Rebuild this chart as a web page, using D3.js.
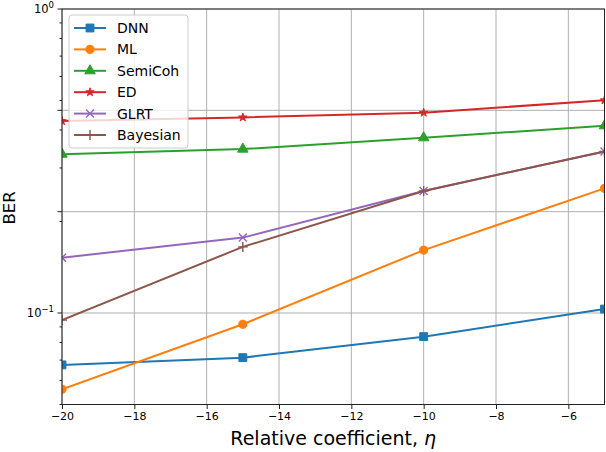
<!DOCTYPE html>
<html>
<head>
<meta charset="utf-8">
<script src="https://cdn.jsdelivr.net/npm/d3@7"></script>
<style>
  body { margin: 0; background: #fff; }
  svg { display: block; font-family: "DejaVu Sans", sans-serif; }
</style>
</head>
<body>
<div id="chart"></div>
<script>
// data
const etaValues = [-20, -15, -10, -5];
const dnnBer = [0.0675, 0.0713, 0.0836, 0.103];
const mlBer = [0.0561, 0.0918, 0.161, 0.257];
const semiCohBer = [0.333, 0.346, 0.377, 0.413];
const edBer = [0.428, 0.440, 0.456, 0.501];
const glrtBer = [0.152, 0.177, 0.252, 0.340];
const bayesianBer = [0.0948, 0.165, 0.252, 0.340];

const seriesNames = ["DNN", "ML", "SemiCoh", "ED", "GLRT", "Bayesian"];
const xTickValues = [-20, -18, -16, -14, -12, -10, -8, -6];
const yMajorTicks = [1, 0.1];
const yGridTicks = [1, Math.pow(10, -1 / 3), Math.pow(10, -2 / 3), 0.1];
const yMinorTicks = [0.9, 0.8, 0.7, 0.6, 0.5, 0.4, 0.3, 0.2, 0.09, 0.08, 0.07, 0.06, 0.05];

const colors = ["#1f77b4", "#ff7f0e", "#2ca02c", "#d62728", "#9467bd", "#8c564b"];
const markers = ["square", "circle", "triangle", "star", "x", "plus"];

const series = [dnnBer, mlBer, semiCohBer, edBer, glrtBer, bayesianBer].map((vals, i) => ({
    name: seriesNames[i],
    color: colors[i],
    marker: markers[i],
    points: vals.map((v, j) => ({ x: etaValues[j], y: v }))
}));

const width = 606, height = 452;
const margin = { left: 62, right: 1.5, top: 9, bottom: 47.5 };

const svg = d3.select("#chart").append("svg")
    .attr("width", width)
    .attr("height", height);

const x = d3.scaleLinear().domain([-20, -5]).range([margin.left, width - margin.right]);
const y = d3.scaleLog().domain([0.05, 1]).range([height - margin.bottom, margin.top]);

svg.append("clipPath").attr("id", "plotClip")
    .append("rect")
    .attr("x", margin.left).attr("y", margin.top)
    .attr("width", x.range()[1] - margin.left)
    .attr("height", y.range()[0] - margin.top);

// grid
const grid = svg.append("g").attr("stroke", "#b0b0b0").attr("stroke-width", 1);
grid.selectAll(".vg").data(xTickValues).enter().append("line")
    .attr("x1", d => x(d)).attr("x2", d => x(d))
    .attr("y1", margin.top).attr("y2", y.range()[0]);
grid.selectAll(".hg").data(yGridTicks).enter().append("line")
    .attr("x1", margin.left).attr("x2", x.range()[1])
    .attr("y1", d => y(d)).attr("y2", d => y(d));

// axes
const fmtMinus = d => String(d).replace("-", "\u2212");
const xAxis = svg.append("g")
    .attr("transform", `translate(0,${y.range()[0]})`)
    .call(d3.axisBottom(x).tickValues(xTickValues).tickFormat(fmtMinus).tickSize(4.5).tickPadding(3));
xAxis.select(".domain").remove();
xAxis.selectAll("text").attr("font-size", 11).attr("fill", "#000").attr("font-family", "DejaVu Sans");
xAxis.selectAll("line").attr("stroke", "#222");

const yAxis = svg.append("g").attr("transform", `translate(${margin.left},0)`);
yAxis.selectAll(".maj").data(yGridTicks).enter().append("line")
    .attr("x1", -4.5).attr("x2", 0)
    .attr("y1", d => y(d)).attr("y2", d => y(d))
    .attr("stroke", "#222");
yAxis.selectAll(".min").data(yMinorTicks).enter().append("line")
    .attr("x1", -2.5).attr("x2", 0)
    .attr("y1", d => y(d)).attr("y2", d => y(d))
    .attr("stroke", "#222");
const yLabels = yAxis.selectAll(".yl").data(yMajorTicks).enter().append("text")
    .attr("x", -8)
    .attr("y", d => y(d) + 4)
    .attr("text-anchor", "end")
    .attr("font-size", 11.5);
yLabels.append("tspan").text("10");
yLabels.append("tspan").attr("dy", -5).attr("font-size", 8.5)
    .text(d => d === 1 ? "0" : "\u22121");

// lines + markers
const line = d3.line().x(d => x(d.x)).y(d => y(d.y));

function markerPath(type) {
    switch (type) {
        case "square": return d3.symbol(d3.symbolSquare, 62)();
        case "circle": return d3.symbol(d3.symbolCircle, 52)();
        case "triangle": return d3.symbol(d3.symbolTriangle, 48)();
        case "star": return d3.symbol(d3.symbolStar, 22)();
        case "x": return "M-4,-4L4,4M-4,4L4,-4";
        case "plus": return "M-5,0L5,0M0,-5L0,5";
    }
}

function drawMarker(sel, s) {
    const stroked = s.marker === "x" || s.marker === "plus";
    sel.attr("d", markerPath(s.marker))
        .attr("fill", stroked ? "none" : s.color)
        .attr("stroke", s.color)
        .attr("stroke-width", stroked ? 1.4 : 1);
}

const plot = svg.append("g").attr("clip-path", "url(#plotClip)");
series.forEach(s => {
    plot.append("path")
        .datum(s.points)
        .attr("d", line)
        .attr("fill", "none")
        .attr("stroke", s.color)
        .attr("stroke-width", 2);
    plot.selectAll(null).data(s.points).enter().append("path")
        .attr("transform", d => `translate(${x(d.x)},${y(d.y)})`)
        .call(drawMarker, s);
});

// frame
svg.append("rect")
    .attr("x", margin.left).attr("y", margin.top)
    .attr("width", x.range()[1] - margin.left)
    .attr("height", y.range()[0] - margin.top)
    .attr("fill", "none").attr("stroke", "#222").attr("stroke-width", 1);

// axis titles
svg.append("text")
    .attr("x", (margin.left + x.range()[1]) / 2)
    .attr("y", 445)
    .attr("text-anchor", "middle")
    .attr("font-size", 19)
    .html('Relative coefficient, <tspan font-style="italic">η</tspan>');

svg.append("text")
    .attr("transform", "translate(15,208) rotate(-90)")
    .attr("text-anchor", "middle")
    .attr("font-size", 16.5)
    .text("BER");

// legend
const legend = svg.append("g");
legend.append("rect")
    .attr("x", 69).attr("y", 15).attr("width", 119).attr("height", 133)
    .attr("rx", 3)
    .attr("fill", "#fff").attr("fill-opacity", 0.8)
    .attr("stroke", "#ccc");
series.forEach((s, i) => {
    const ly = 28 + i * 21.4;
    legend.append("line")
        .attr("x1", 74).attr("x2", 106).attr("y1", ly).attr("y2", ly)
        .attr("stroke", s.color).attr("stroke-width", 2);
    legend.append("path")
        .attr("transform", `translate(90,${ly})`)
        .call(drawMarker, s);
    legend.append("text")
        .attr("x", 117).attr("y", ly + 5)
        .attr("font-size", 14)
        .text(s.name);
});
</script>
</body>
</html>
